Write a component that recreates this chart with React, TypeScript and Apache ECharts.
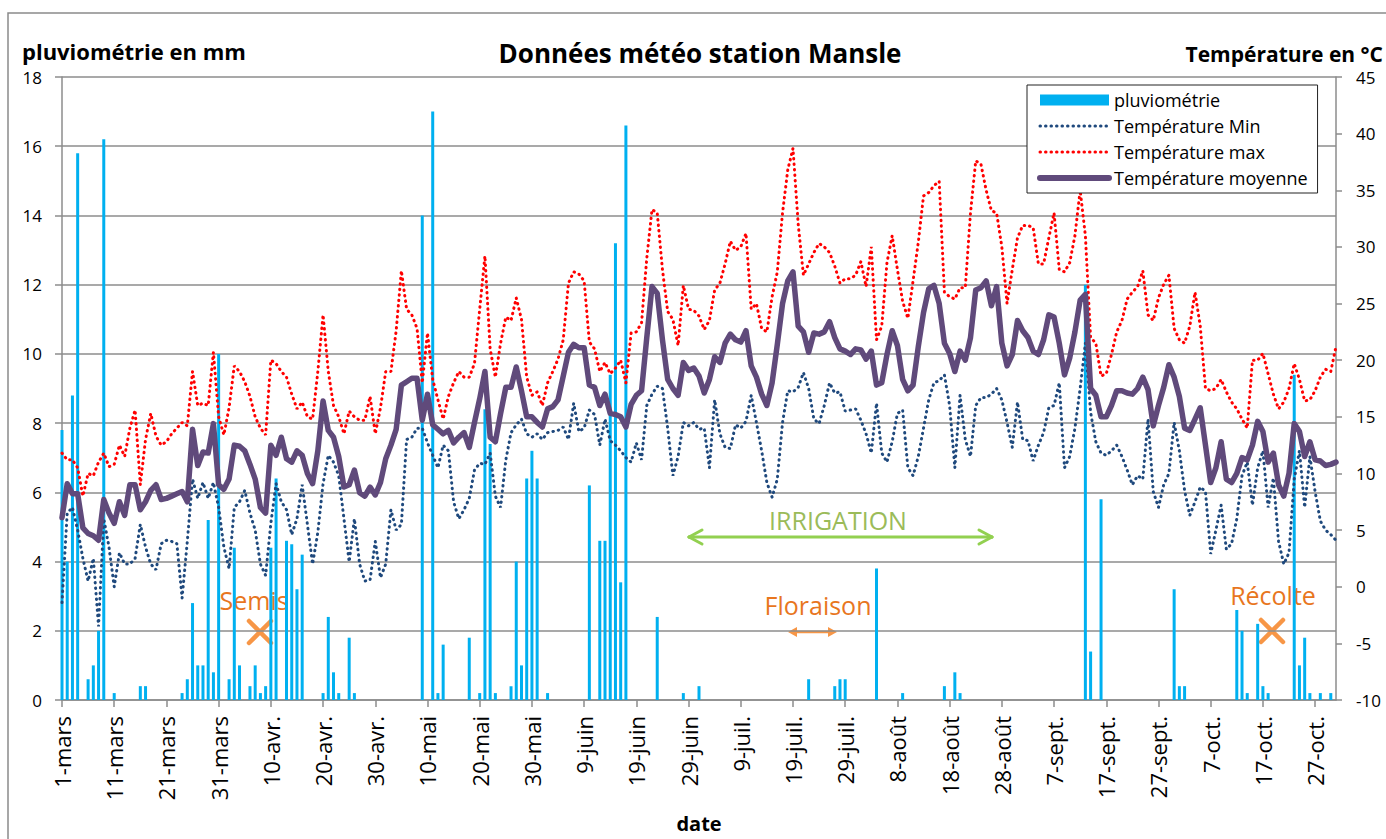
import React, { useEffect, useRef } from 'react';
import * as echarts from 'echarts';

// ---------- categories (1 mars -> 31 oct) ----------
const monthNames = ['mars', 'avr.', 'mai', 'juin', 'juil.', 'août', 'sept.', 'oct.'];
const monthLengths = [31, 30, 31, 30, 31, 31, 30, 31];
const dateLabels: string[] = [];
monthNames.forEach((m, k) => {
  for (let d = 1; d <= monthLengths[k]; d++) dateLabels.push(`${d}-${m}`);
});

// ---------- pluviométrie (mm) ----------
const rain = [
  7.8, 4.0, 8.8, 15.8, 0, 0.6, 1.0, 2.0, 16.2, 0,
  0.2, 0, 0, 0, 0, 0.4, 0.4, 0, 0, 0,
  0, 0, 0, 0.2, 0.6, 2.8, 1.0, 1.0, 5.2, 0.8,
  10.0, 0, 0.6, 4.4, 1.0, 0, 0.4, 1.0, 0.2, 0.4,
  4.4, 6.4, 0, 4.6, 4.5, 3.2, 4.2, 0, 0, 0,
  0.2, 2.4, 0.8, 0.2, 0, 1.8, 0.2, 0, 0, 0,
  0, 0, 0, 0, 0, 0, 0, 0, 0, 14.0,
  0, 17.0, 0.2, 1.6, 0, 0, 0, 0, 1.8, 0,
  0.2, 8.4, 7.4, 0.2, 0, 0, 0.4, 4.0, 1.0, 6.4,
  7.2, 6.4, 0, 0.2, 0, 0, 0, 0, 0, 0,
  0, 6.2, 0, 4.6, 4.6, 9.4, 13.2, 3.4, 16.6, 0,
  0, 0, 0, 0, 2.4, 0, 0, 0, 0, 0.2,
  0, 0, 0.4, 0, 0, 0, 0, 0, 0, 0,
  0, 0, 0, 0, 0, 0, 0, 0, 0, 0,
  0, 0, 0, 0.6, 0, 0, 0, 0, 0.4, 0.6,
  0.6, 0, 0, 0, 0, 0, 3.8, 0, 0, 0,
  0, 0.2, 0, 0, 0, 0, 0, 0, 0, 0.4,
  0, 0.8, 0.2, 0, 0, 0, 0, 0, 0, 0,
  0, 0, 0, 0, 0, 0, 0, 0, 0, 0,
  0, 0, 0, 0, 0, 0, 12.0, 1.4, 0, 5.8,
  0, 0, 0, 0, 0, 0, 0, 0, 0, 0,
  0, 0, 0, 3.2, 0.4, 0.4, 0, 0, 0, 0,
  0, 0, 0, 0, 0, 2.6, 2.0, 0.2, 0, 2.2,
  0.4, 0.2, 0, 0, 0, 0, 9.4, 1.0, 1.8, 0.2,
  0, 0.2, 0, 0.2, 0,
];

// ---------- Température Min (°C) ----------
const tMin = [
  -1.4, 6.5, 7.0, 5.0, 2.5, 0.5, 2.5, -3.5, 6.0, 3.5,
  0.0, 3.0, 2.0, 2.0, 2.5, 5.5, 3.5, 2.0, 1.5, 3.8,
  4.1, 4.0, 3.8, -1.0, 4.0, 9.5, 7.8, 9.2, 7.8, 9.2,
  7.0, 3.5, 1.6, 7.0, 7.5, 8.5, 6.5, 5.0, 2.0, 1.0,
  5.6, 9.1, 7.5, 6.8, 4.6, 6.0, 9.0, 5.5, 2.0, 4.8,
  9.1, 11.6, 11.0, 9.8, 6.0, 2.2, 6.0, 2.0, 0.5, 0.6,
  4.0, 0.8, 2.0, 6.8, 5.0, 5.5, 13.0, 13.2, 14.0, 14.0,
  12.7, 11.6, 10.5, 12.5, 12.0, 7.5, 6.0, 6.8, 7.8, 10.3,
  10.9, 10.8, 11.8, 8.0, 7.0, 11.2, 13.6, 14.3, 14.8, 13.5,
  13.2, 13.5, 13.0, 13.6, 13.7, 13.8, 14.1, 13.0, 16.2, 13.7,
  14.0, 15.6, 15.2, 12.5, 14.8, 12.9, 12.5, 12.0, 11.4, 11.0,
  12.7, 11.2, 16.0, 17.0, 17.7, 17.5, 14.0, 9.8, 11.5, 14.5,
  14.2, 14.5, 13.9, 14.0, 10.5, 16.5, 13.5, 12.3, 12.2, 14.3,
  14.0, 14.6, 16.9, 14.5, 12.0, 9.2, 7.9, 9.5, 14.5, 17.3,
  17.2, 17.6, 18.9, 17.5, 14.8, 14.4, 16.0, 18.0, 17.1, 17.2,
  15.5, 15.6, 15.7, 14.7, 13.5, 11.8, 16.2, 11.8, 11.0, 12.8,
  15.3, 15.6, 10.5, 9.8, 11.5, 14.0, 16.5, 18.0, 18.2, 18.7,
  16.0, 10.5, 16.9, 13.0, 11.5, 16.0, 16.7, 16.7, 17.0, 17.5,
  16.5, 14.5, 12.3, 16.3, 13.0, 12.9, 11.1, 12.5, 13.6, 15.8,
  16.0, 18.0, 10.5, 11.5, 14.0, 17.5, 21.5, 15.4, 12.8, 11.8,
  11.6, 12.0, 12.5, 11.5, 10.3, 9.0, 9.8, 9.5, 14.8, 8.4,
  7.0, 9.0, 10.0, 14.5, 12.0, 8.5, 6.3, 7.5, 8.8, 8.4,
  2.9, 5.0, 7.2, 3.3, 3.8, 6.0, 9.8, 11.0, 7.2, 10.5,
  12.0, 7.0, 9.6, 4.0, 2.0, 3.0, 9.5, 12.0, 7.0, 11.5,
  8.4, 5.8, 5.0, 4.6, 4.1,
];

// ---------- Température max (°C) ----------
const tMax = [
  11.8, 11.2, 11.2, 10.5, 8.0, 10.0, 9.8, 11.0, 11.8, 10.6,
  10.8, 12.5, 11.5, 14.0, 15.6, 9.0, 13.0, 15.3, 13.3, 12.5,
  12.8, 13.5, 14.0, 14.5, 14.2, 19.0, 16.0, 16.2, 16.0, 20.7,
  15.0, 13.4, 15.8, 19.5, 19.0, 18.1, 16.8, 15.0, 14.0, 13.4,
  20.0, 19.7, 19.0, 18.5, 17.0, 15.7, 16.3, 15.0, 14.8, 19.0,
  24.0, 19.0, 16.0, 15.0, 13.5, 15.5, 15.0, 14.7, 14.7, 16.8,
  13.5, 15.8, 19.0, 19.0, 22.6, 27.9, 24.5, 24.0, 22.8, 18.0,
  22.4, 18.3, 16.5, 14.8, 16.8, 18.0, 19.0, 18.5, 18.5, 19.7,
  24.5, 29.2, 21.0, 18.5, 21.5, 23.8, 23.5, 25.5, 23.6, 18.5,
  16.9, 17.2, 16.0, 18.0, 19.0, 20.1, 21.8, 26.8, 27.8, 27.6,
  27.0, 21.6, 21.0, 19.0, 19.8, 18.8, 19.3, 20.0, 18.0, 22.4,
  22.5, 23.3, 29.0, 33.3, 33.0, 28.0, 24.3, 23.6, 21.3, 26.6,
  24.5, 24.4, 23.9, 22.7, 23.5, 26.2, 26.8, 28.5, 30.5, 29.7,
  30.0, 31.2, 24.5, 25.0, 22.8, 22.5, 25.6, 27.8, 33.0, 36.8,
  38.7, 32.0, 27.5, 28.5, 29.5, 30.3, 30.0, 29.5, 28.3, 26.8,
  27.2, 27.2, 27.5, 28.7, 26.5, 30.0, 21.8, 23.0, 28.6, 31.0,
  28.0, 25.2, 23.7, 27.0, 30.4, 34.5, 34.8, 35.4, 35.8, 26.0,
  25.6, 25.4, 26.4, 26.4, 33.0, 37.6, 37.3, 35.0, 33.2, 33.0,
  30.0, 25.0, 28.0, 30.8, 31.9, 31.9, 31.7, 28.5, 28.5, 30.8,
  33.0, 28.0, 27.8, 28.6, 31.0, 35.0, 31.0, 22.0, 21.5, 18.6,
  18.8, 20.5, 22.5, 23.5, 25.4, 26.0, 26.5, 27.9, 24.0, 23.5,
  25.5, 26.7, 27.5, 22.8, 21.8, 21.5, 23.0, 26.0, 23.0, 17.5,
  17.3, 17.5, 18.3, 17.2, 16.3, 15.7, 14.8, 14.0, 20.0, 20.0,
  20.6, 18.8, 17.0, 15.7, 16.3, 17.5, 19.7, 18.3, 16.4, 16.5,
  17.3, 18.5, 19.2, 19.0, 21.2,
];

// ---------- Température moyenne (°C) ----------
const tMoy = [
  6.1, 9.1, 8.2, 8.2, 5.2, 4.7, 4.5, 4.1, 7.7, 6.5,
  5.6, 7.5, 6.3, 9.0, 9.0, 6.8, 7.5, 8.5, 9.0, 7.7,
  7.8, 8.0, 8.2, 8.4, 7.5, 13.9, 10.7, 11.9, 11.8, 14.4,
  9.0, 8.6, 9.5, 12.5, 12.4, 12.0, 10.8, 9.5, 7.0, 6.5,
  12.5, 11.6, 13.2, 11.3, 11.0, 12.0, 11.6, 10.0, 9.1, 12.0,
  16.4, 13.8, 13.2, 11.5, 8.8, 9.0, 10.3, 8.3, 8.0, 8.8,
  8.1, 9.2, 11.3, 12.5, 13.9, 17.8, 18.1, 18.4, 18.4, 14.7,
  17.0, 14.3, 13.9, 13.5, 13.8, 12.7, 13.2, 13.6, 12.3, 14.5,
  16.6, 19.0, 13.2, 12.8, 15.3, 17.6, 17.6, 19.4, 17.3, 15.0,
  15.0, 14.5, 14.1, 15.7, 15.9, 16.5, 18.6, 20.7, 21.4, 21.1,
  21.1, 17.8, 17.6, 16.0, 17.0, 15.3, 15.2, 15.0, 14.1, 16.1,
  16.9, 17.3, 22.0, 26.5, 25.9, 21.8, 18.3, 17.5, 16.9, 19.8,
  19.1, 19.3, 18.6, 17.1, 18.3, 20.3, 19.8, 21.5, 22.3, 21.8,
  21.6, 22.6, 19.5, 18.5, 17.0, 16.0, 18.0, 21.4, 25.0, 27.0,
  27.8, 23.0, 22.5, 20.7, 22.4, 22.3, 22.5, 23.4, 22.0, 21.0,
  20.8, 20.5, 21.0, 20.9, 20.1, 20.8, 17.8, 18.0, 20.5, 22.6,
  21.3, 18.3, 17.3, 17.8, 21.2, 24.2, 26.3, 26.6, 25.0, 21.5,
  20.6, 19.0, 20.8, 20.0, 22.0, 26.2, 26.4, 27.0, 24.8, 26.5,
  21.5, 19.5, 20.5, 23.5, 22.6, 22.0, 20.8, 20.5, 21.8, 24.0,
  23.8, 21.5, 18.7, 20.2, 22.5, 25.3, 25.8, 17.5, 16.9, 15.0,
  15.0, 16.0, 17.3, 17.3, 17.1, 17.0, 17.5, 18.5, 17.4, 14.2,
  16.0, 17.6, 19.6, 18.5, 16.8, 14.0, 13.8, 14.8, 15.8, 12.5,
  9.2, 10.5, 12.8, 9.5, 9.2, 10.0, 11.4, 11.2, 12.5, 14.6,
  13.7, 11.0, 11.8, 9.0, 8.0, 10.0, 14.4, 13.7, 11.5, 12.8,
  11.2, 11.1, 10.7, 10.8, 11.0,
];

const FONT = '"Open Sans", "Noto Sans", sans-serif';
const GRID_COLOR = '#8C8C8C';
const ORANGE_TEXT = '#E8761E';
const ORANGE_MARK = '#F79646';
const GREEN_TEXT = '#9BBB59';
const GREEN_ARROW = '#92D050';
const HIDDEN_SYMBOL = { color: 'rgba(0,0,0,0)', borderWidth: 0, opacity: 0 };

function txt(x: number, y: number, text: string, size: number, color: string, align: string, bold = false) {
  return {
    type: 'text',
    x,
    y,
    silent: true,
    style: {
      text,
      fill: color,
      fontSize: size,
      fontWeight: bold ? 'bold' : 'normal',
      fontFamily: FONT,
      align,
      textAlign: align,
      verticalAlign: 'middle',
      textVerticalAlign: 'middle',
    },
  };
}

function seg(x1: number, y1: number, x2: number, y2: number, color: string, w: number) {
  return {
    type: 'line',
    silent: true,
    shape: { x1, y1, x2, y2 },
    style: { stroke: color, lineWidth: w, lineCap: 'round' },
  };
}

function cross(cx: number, cy: number, r: number) {
  return [
    seg(cx - r, cy - r, cx + r, cy + r, ORANGE_MARK, 4.5),
    seg(cx - r, cy + r, cx + r, cy - r, ORANGE_MARK, 4.5),
  ];
}

export default function App() {
  const ref = useRef<HTMLDivElement>(null);

  useEffect(() => {
    document.body.style.margin = '0';
    document.body.style.overflow = 'hidden';
    const chart = echarts.init(ref.current as HTMLDivElement, null, { renderer: 'svg' });

    const option: any = {
      animation: false,
      backgroundColor: '#ffffff',
      textStyle: { fontFamily: FONT },
      title: {
        text: 'Données météo station Mansle',
        left: 700,
        top: 40,
        textAlign: 'center',
        padding: 0,
        textStyle: { fontSize: 26, fontWeight: 'bold', color: '#000', fontFamily: FONT },
      },
      legend: {
        orient: 'vertical',
        left: 1027,
        top: 85,
        padding: [6, 10, 6, 10],
        itemWidth: 69,
        itemHeight: 11,
        itemGap: 8,
        backgroundColor: '#ffffff',
        borderColor: '#222',
        borderWidth: 1,
        borderRadius: 0,
        textStyle: { fontSize: 18, color: '#000', fontFamily: FONT, lineHeight: 18 },
        data: [
          { name: 'pluviométrie', icon: 'rect' },
          { name: 'Température Min', lineStyle: { width: 3 }, itemStyle: HIDDEN_SYMBOL },
          { name: 'Température max', lineStyle: { width: 3 }, itemStyle: HIDDEN_SYMBOL },
          { name: 'Température moyenne', lineStyle: { width: 6 }, itemStyle: HIDDEN_SYMBOL },
        ],
      },
      grid: {
        left: 62,
        right: 50,
        top: 77,
        bottom: 139,
        containLabel: false,
        outerBoundsMode: 'none',
      },
      xAxis: {
        type: 'category',
        data: dateLabels,
        boundaryGap: false,
        axisLine: { show: true, lineStyle: { color: GRID_COLOR, width: 1.5 } },
        axisTick: { show: true, interval: 9, length: 7, lineStyle: { color: GRID_COLOR, width: 1.5 } },
        axisLabel: {
          interval: 9,
          rotate: 90,
          fontSize: 22,
          color: '#000',
          margin: 16,
          fontFamily: FONT,
        },
        splitLine: { show: false },
        name: 'date',
        nameLocation: 'middle',
        nameGap: 113,
        nameTextStyle: { fontSize: 20, fontWeight: 'bold', color: '#000', fontFamily: FONT },
      },
      yAxis: [
        {
          type: 'value',
          position: 'left',
          min: 0,
          max: 18,
          interval: 2,
          axisLine: { show: true, lineStyle: { color: GRID_COLOR, width: 1.5 } },
          axisTick: { show: true, length: 7, lineStyle: { color: GRID_COLOR, width: 1.5 } },
          axisLabel: { fontSize: 17, color: '#000', margin: 20, fontFamily: FONT },
          splitLine: { show: true, lineStyle: { color: GRID_COLOR, width: 1.5 } },
        },
        {
          type: 'value',
          position: 'right',
          min: -10,
          max: 45,
          interval: 5,
          axisLine: { show: true, lineStyle: { color: GRID_COLOR, width: 1.5 } },
          axisTick: { show: true, length: 6, lineStyle: { color: GRID_COLOR, width: 1.5 } },
          axisLabel: { fontSize: 17, color: '#000', margin: 20, fontFamily: FONT },
          splitLine: { show: false },
        },
      ],
      series: [
        {
          name: 'pluviométrie',
          type: 'bar',
          yAxisIndex: 0,
          data: rain,
          barWidth: 3,
          itemStyle: { color: '#00B0F0' },
          z: 1,
        },
        {
          name: 'Température Min',
          type: 'line',
          yAxisIndex: 1,
          data: tMin,
          symbol: 'none',
          showSymbol: false,
          lineStyle: { color: '#1F497D', width: 3, type: [0.5, 5], cap: 'round' },
          itemStyle: { color: '#1F497D' },
          z: 3,
        },
        {
          name: 'Température max',
          type: 'line',
          yAxisIndex: 1,
          data: tMax,
          symbol: 'none',
          showSymbol: false,
          lineStyle: { color: '#FF0000', width: 3, type: [0.5, 5], cap: 'round' },
          itemStyle: { color: '#FF0000' },
          z: 3,
        },
        {
          name: 'Température moyenne',
          type: 'line',
          yAxisIndex: 1,
          data: tMoy,
          symbol: 'none',
          showSymbol: false,
          lineStyle: { color: '#604A7B', width: 5.5, join: 'round', cap: 'round' },
          itemStyle: { color: '#604A7B' },
          z: 4,
        },
      ],
      graphic: [
        {
          type: 'rect',
          silent: true,
          z: -10,
          shape: { x: 8, y: 13, width: 1400, height: 900 },
          style: { fill: 'none', stroke: '#8A8A8A', lineWidth: 1.5 },
        },
        txt(22, 51, 'pluviométrie en mm', 22, '#000', 'left', true),
        txt(1383, 54, 'Température en °C', 21, '#000', 'right', true),
        // IRRIGATION
        txt(838, 520, 'IRRIGATION', 25, GREEN_TEXT, 'center'),
        seg(689, 537, 992, 537, GREEN_ARROW, 3),
        seg(689, 537, 702, 530, GREEN_ARROW, 3),
        seg(689, 537, 702, 544, GREEN_ARROW, 3),
        seg(992, 537, 979, 530, GREEN_ARROW, 3),
        seg(992, 537, 979, 544, GREEN_ARROW, 3),
        // Semis
        txt(254, 600, 'Semis', 25, ORANGE_TEXT, 'center'),
        ...cross(260, 632, 11),
        // Floraison
        txt(818, 605, 'Floraison', 25, ORANGE_TEXT, 'center'),
        seg(795, 632, 830, 632, ORANGE_MARK, 2.5),
        {
          type: 'polygon',
          silent: true,
          shape: { points: [[788, 632], [797, 627], [797, 637]] },
          style: { fill: ORANGE_MARK },
        },
        {
          type: 'polygon',
          silent: true,
          shape: { points: [[837, 632], [828, 627], [828, 637]] },
          style: { fill: ORANGE_MARK },
        },
        // Récolte
        txt(1273, 595, 'Récolte', 25, ORANGE_TEXT, 'center'),
        ...cross(1272, 631, 11),
      ],
    };

    chart.setOption(option);
    return () => chart.dispose();
  }, []);

  return <div ref={ref} style={{ width: 1386, height: 839, background: '#fff' }} />;
}
